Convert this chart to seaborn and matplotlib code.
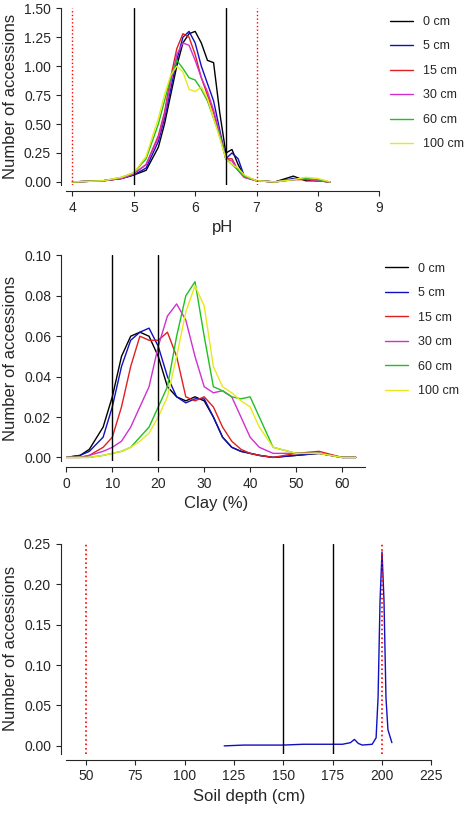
import numpy as np
import pandas as pd
import seaborn as sns
import matplotlib.pyplot as plt

sns.set_style("ticks")
plt.rcParams['font.family'] = ['Liberation Sans', 'DejaVu Sans']

depths = ["0 cm", "5 cm", "15 cm", "30 cm", "60 cm", "100 cm"]
colors = ["black", "#1010c0", "#e02020", "#d030d0", "#20c020", "#e8e820"]

x_ph = [4.0,4.5,4.8,5.0,5.2,5.4,5.5,5.6,5.7,5.8,5.9,6.0,6.1,6.2,6.3,6.4,6.5,6.6,6.7,6.8,7.0,7.3,7.6,7.8,8.0,8.2]
ph = {
    "0 cm":   [0,0.01,0.03,0.06,0.10,0.30,0.50,0.75,1.00,1.20,1.28,1.30,1.20,1.05,1.03,0.60,0.25,0.28,0.15,0.05,0.01,0,0.05,0.01,0.01,0],
    "5 cm":   [0,0.01,0.03,0.06,0.12,0.35,0.55,0.80,1.05,1.25,1.30,1.20,1.00,0.85,0.70,0.45,0.20,0.25,0.20,0.05,0.01,0,0.03,0.02,0.01,0],
    "15 cm":  [0,0.01,0.03,0.07,0.15,0.40,0.60,0.90,1.15,1.28,1.25,1.10,0.90,0.75,0.60,0.40,0.20,0.20,0.10,0.04,0.01,0,0.02,0.02,0.01,0],
    "30 cm":  [0,0.01,0.03,0.07,0.15,0.38,0.58,0.85,1.10,1.20,1.18,1.05,0.90,0.78,0.62,0.42,0.20,0.18,0.10,0.04,0.01,0,0.02,0.03,0.01,0],
    "60 cm":  [0,0.01,0.04,0.08,0.20,0.50,0.70,0.90,1.05,0.98,0.90,0.88,0.80,0.70,0.55,0.40,0.20,0.15,0.10,0.05,0.01,0,0.02,0.03,0.02,0],
    "100 cm": [0,0.01,0.04,0.08,0.22,0.55,0.75,0.92,1.00,0.95,0.80,0.78,0.82,0.72,0.55,0.38,0.20,0.15,0.12,0.06,0.01,0,0.02,0.04,0.03,0],
}

x_clay = [0,3,5,8,10,12,14,16,18,20,22,24,26,28,30,32,34,36,38,40,42,45,50,55,60,63]
clay = {
    "0 cm":   [0,0.001,0.004,0.015,0.030,0.050,0.060,0.062,0.060,0.050,0.035,0.030,0.028,0.030,0.028,0.020,0.010,0.005,0.003,0.002,0.001,0,0.001,0.002,0,0],
    "5 cm":   [0,0.001,0.003,0.010,0.025,0.045,0.058,0.062,0.064,0.055,0.040,0.030,0.027,0.029,0.029,0.020,0.010,0.005,0.003,0.002,0.001,0,0.001,0.002,0,0],
    "15 cm":  [0,0,0.001,0.005,0.010,0.025,0.045,0.060,0.058,0.058,0.062,0.050,0.030,0.028,0.030,0.025,0.015,0.008,0.004,0.002,0.001,0,0.002,0.003,0,0],
    "30 cm":  [0,0,0.001,0.003,0.005,0.008,0.015,0.025,0.035,0.055,0.070,0.076,0.068,0.050,0.035,0.032,0.033,0.030,0.020,0.010,0.005,0.002,0.002,0.002,0,0],
    "60 cm":  [0,0,0,0.001,0.002,0.003,0.005,0.010,0.015,0.025,0.035,0.060,0.080,0.087,0.060,0.035,0.033,0.030,0.029,0.030,0.020,0.005,0.002,0.002,0,0],
    "100 cm": [0,0,0,0.001,0.002,0.003,0.005,0.008,0.012,0.020,0.030,0.050,0.072,0.085,0.075,0.045,0.035,0.032,0.028,0.025,0.015,0.005,0.002,0.002,0,0],
}

x_depth = [120,130,140,150,160,170,180,184,186,188,190,195,197,198,199,200,201,202,203,205]
depth_5 = [0,0.001,0.001,0.001,0.002,0.002,0.002,0.004,0.008,0.003,0.001,0.002,0.01,0.06,0.18,0.24,0.18,0.06,0.02,0.004]

fig = plt.figure(figsize=(4.74, 8.24), dpi=100)
ax1 = fig.add_axes([0.14, 0.775, 0.66, 0.215])
ax2 = fig.add_axes([0.14, 0.44, 0.63, 0.25])
ax3 = fig.add_axes([0.14, 0.085, 0.77, 0.255])

for d, c in zip(depths, colors):
    sns.lineplot(x=x_ph, y=ph[d], ax=ax1, color=c, lw=1, label=d)
    sns.lineplot(x=x_clay, y=clay[d], ax=ax2, color=c, lw=1, label=d)
sns.lineplot(x=x_depth, y=depth_5, ax=ax3, color="#1010c0", lw=1)

for v in [5, 6.5]:
    ax1.axvline(v, color="black", lw=1)
for v in [4, 7]:
    ax1.axvline(v, color="red", lw=1, ls=":")
for v in [10, 20]:
    ax2.axvline(v, color="black", lw=1)
for v in [150, 175]:
    ax3.axvline(v, color="black", lw=1)
for v in [50, 200]:
    ax3.axvline(v, color="red", lw=1.2, ls=":")

ax1.set(xlim=(3.9, 9), ylim=(-0.03, 1.5), xticks=range(4, 10), yticks=np.arange(0, 1.51, 0.25), xlabel="pH")
ax1.set_yticklabels([f"{v:.2f}" for v in np.arange(0, 1.51, 0.25)])
ax2.set(xlim=(0, 65), ylim=(-0.002, 0.1), xticks=range(0, 70, 10), yticks=np.arange(0, 0.101, 0.02), xlabel="Clay (%)")
ax2.set_yticklabels([f"{v:.2f}" for v in np.arange(0, 0.101, 0.02)])
ax3.set(xlim=(40, 225), ylim=(-0.01, 0.25), xticks=range(50, 226, 25), yticks=np.arange(0, 0.251, 0.05), xlabel="Soil depth (cm)")
ax3.set_yticklabels([f"{v:.2f}" for v in np.arange(0, 0.251, 0.05)])

for ax in (ax1, ax2, ax3):
    ax.set_ylabel("Number of accessions", fontsize=12)
    ax.xaxis.label.set_size(12)
    ax.tick_params(labelsize=10)
    sns.despine(ax=ax, offset=4)
ax1.legend(loc="upper left", bbox_to_anchor=(1.0, 1.02), frameon=False, fontsize=9, labelspacing=1.0, handlelength=1.8)
ax2.legend(loc="upper left", bbox_to_anchor=(1.03, 1.02), frameon=False, fontsize=9, labelspacing=1.0, handlelength=1.8)

fig.savefig("out.png", dpi=100)
